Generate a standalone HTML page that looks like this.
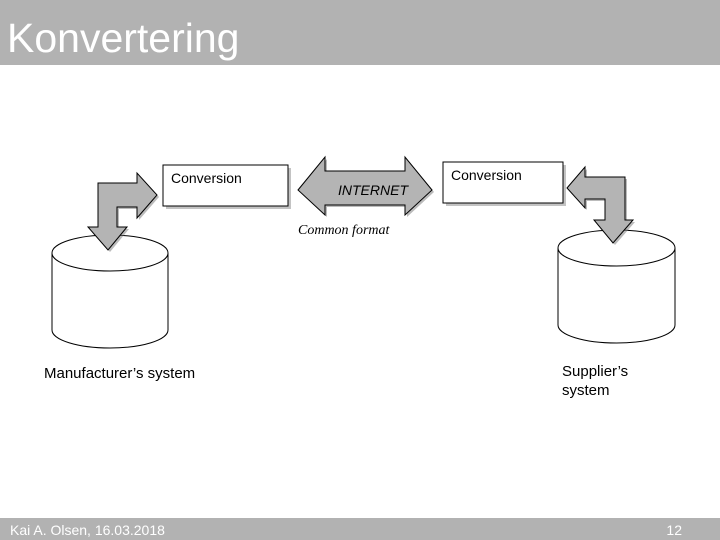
<!DOCTYPE html>
<html><head><meta charset="utf-8"><style>
html,body{margin:0;padding:0;background:#fff;}
svg{display:block;}
</style></head><body>
<svg width="720" height="540" viewBox="0 0 720 540" xmlns="http://www.w3.org/2000/svg" font-family="Liberation Sans, sans-serif">
<rect x="0" y="0" width="720" height="65" fill="#b2b2b2"/>
<text x="7" y="52" font-size="41" fill="#fff">Konvertering</text>
<rect x="0" y="518" width="720" height="22" fill="#b2b2b2"/>
<text x="10" y="535" font-size="14" fill="#fff">Kai A. Olsen, 16.03.2018</text>
<text x="682" y="535" font-size="14" fill="#fff" text-anchor="end">12</text>

<!-- cylinders -->
<g stroke="#000" fill="#fff">
<path d="M52,253 L52,330 A58,18 0 0 0 168,330 L168,253" />
<ellipse cx="110" cy="253" rx="58" ry="18"/>
<path d="M558,248 L558,325 A58.5,18 0 0 0 675,325 L675,248" />
<ellipse cx="616.5" cy="248" rx="58.5" ry="18"/>
</g>

<g fill="#888" opacity="0.5">
<rect x="166" y="168" width="125" height="41"/>
<rect x="446" y="165" width="120" height="41"/>
</g>
<rect x="163" y="165" width="125" height="41" fill="#fff" stroke="#000"/>
<text x="171" y="183" font-size="14">Conversion</text>
<rect x="443" y="162" width="120" height="41" fill="#fff" stroke="#000"/>
<text x="451" y="180" font-size="14">Conversion</text>

<!-- left bent arrow -->
<path d="M98,183 L137,183 L137,173 L157,195 L137,218 L137,207 L117,207 L117,227 L127,227 L108,250 L88,227 L98,227 Z" fill="#777" transform="translate(2,2)" opacity="0.5"/>
<path d="M98,183 L137,183 L137,173 L157,195 L137,218 L137,207 L117,207 L117,227 L127,227 L108,250 L88,227 L98,227 Z" fill="#b4b4b4" stroke="#000" stroke-width="1"/>

<!-- internet arrow -->
<path d="M298,190 L325,157 L325,171 L405,171 L405,157 L432,190 L405,215 L405,205 L325,205 L325,215 Z" fill="#777" transform="translate(2,2)" opacity="0.5"/>
<path d="M298,190 L325,157 L325,171 L405,171 L405,157 L432,190 L405,215 L405,205 L325,205 L325,215 Z" fill="#b4b4b4" stroke="#000"/>
<text x="338" y="195" font-size="14" font-style="italic">INTERNET</text>
<text x="298" y="234" font-size="14" font-style="italic" font-family="Liberation Serif, serif">Common format</text>

<!-- right bent arrow -->
<path d="M567,188 L585,167 L585,177 L625,177 L625,220 L633,220 L613,243 L594,220 L605,220 L605,199 L585,199 L585,208 Z" fill="#777" transform="translate(2,2)" opacity="0.5"/>
<path d="M567,188 L585,167 L585,177 L625,177 L625,220 L633,220 L613,243 L594,220 L605,220 L605,199 L585,199 L585,208 Z" fill="#b4b4b4" stroke="#000"/>

<text x="44" y="378" font-size="15">Manufacturer’s system</text>
<text x="562" y="376" font-size="15">Supplier’s</text>
<text x="562" y="395" font-size="15">system</text>
</svg>
</body></html>
